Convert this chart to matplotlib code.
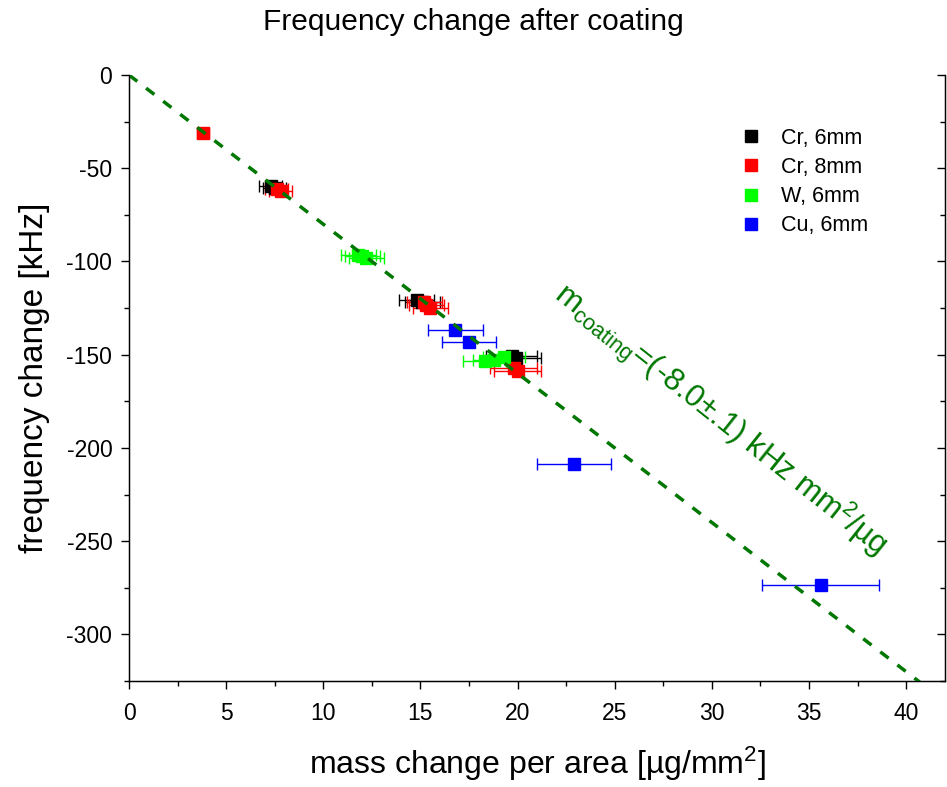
import matplotlib
matplotlib.use("Agg")
import matplotlib.pyplot as plt
import numpy as np
from matplotlib.ticker import MultipleLocator
from matplotlib.lines import Line2D

plt.rcParams['font.family'] = ['Liberation Sans', 'DejaVu Sans']
plt.rcParams['mathtext.fontset'] = 'custom'
plt.rcParams['mathtext.rm'] = 'Liberation Sans'
plt.rcParams['mathtext.it'] = 'Liberation Sans'
plt.rcParams['axes.unicode_minus'] = False

# data
cr6_x = [7.3, 7.5, 14.8, 15.1, 19.7, 19.9]
cr6_y = [-59.5, -60.5, -120.5, -121.5, -150.5, -152.0]
cr6_xerr = [0.6, 0.6, 0.9, 0.9, 1.3, 1.3]

cr8_x = [3.8, 7.6, 7.8, 15.2, 15.3, 15.5, 19.8, 20.0]
cr8_y = [-31.0, -61.0, -62.0, -122.0, -123.5, -125.0, -157.0, -158.5]
cr8_xerr = [0.3, 0.6, 0.6, 0.9, 0.9, 0.9, 1.2, 1.2]

w6_x = [11.8, 12.0, 12.2, 18.3, 18.8, 19.3]
w6_y = [-96.5, -97.0, -98.0, -153.5, -153.0, -151.0]
w6_xerr = [0.9, 0.9, 0.9, 1.1, 1.1, 1.1]

cu6_x = [16.8, 17.5, 22.9, 35.6]
cu6_y = [-137.0, -143.0, -208.5, -273.5]
cu6_xerr = [1.4, 1.4, 1.9, 3.0]

slope = -8.0
fit_x = [0.0, 42.0]

fig = plt.figure(figsize=(9.47, 7.87), dpi=100)
ax = fig.add_axes([129/947, 1-681/787, (945-129)/947, (681-75)/787])

series = [
    (cr6_x, cr6_y, cr6_xerr, '#000000', 'Cr, 6mm'),
    (cr8_x, cr8_y, cr8_xerr, '#ff0000', 'Cr, 8mm'),
    (w6_x, w6_y, w6_xerr, '#00ff00', 'W, 6mm'),
    (cu6_x, cu6_y, cu6_xerr, '#0000ff', 'Cu, 6mm'),
]
handles = []
for x, y, xe, c, lab in series:
    ax.errorbar(x, y, xerr=xe, fmt='s', color=c, ms=8.5, mec=c,
                ecolor=c, elinewidth=1.0, capsize=4, capthick=1.0)
    handles.append(Line2D([], [], ls='none', marker='s', ms=8, color=c, label=lab))

fx = np.array(fit_x)
ax.plot(fx, slope * fx, '--', color='#007700', lw=2.5, dashes=(3, 3.2), zorder=5)

ax.set_xlim(0, 42)
ax.set_ylim(-325, 0)
ax.xaxis.set_major_locator(MultipleLocator(5))
ax.xaxis.set_minor_locator(MultipleLocator(2.5))
ax.yaxis.set_major_locator(MultipleLocator(50))
ax.yaxis.set_minor_locator(MultipleLocator(25))
ax.spines['top'].set_visible(False)
for s in ['left', 'bottom', 'right']:
    ax.spines[s].set_linewidth(1.0)
ax.tick_params(which='both', direction='out', labelsize=16.5, width=1.0,
               right=False, top=False, pad=6)
ax.tick_params(axis='x', pad=9)
ax.tick_params(which='major', length=6)
ax.tick_params(which='minor', length=3.5)

ax2 = ax.twinx()
ax2.set_ylim(-325, 0)
ax2.yaxis.set_major_locator(MultipleLocator(50))
ax2.yaxis.set_minor_locator(MultipleLocator(25))
ax2.tick_params(which='both', direction='in', labelright=False, width=1.0)
ax2.tick_params(which='major', length=6)
ax2.tick_params(which='minor', length=3.5)
ax2.spines['top'].set_visible(False)

ax.set_xlabel('mass change per area [µg/mm$^2$]', fontsize=23, labelpad=14)
ax.set_ylabel('frequency change [kHz]', fontsize=24, labelpad=12)
fig.text(0.5, 1-22/787, 'Frequency change after coating', ha='center', va='center', fontsize=21.5)

leg = ax.legend(handles=handles, loc='upper right', bbox_to_anchor=(0.93, 0.945), frameon=False,
                fontsize=15.5, handlelength=0.8, handletextpad=1.0, labelspacing=0.38)

ax.text(0.724, 0.431, 'm$_{coating}$=(-8.0$\\pm$.1) kHz mm$^2$/µg', transform=ax.transAxes,
        rotation=-38.5, rotation_mode='anchor', fontsize=22.5, color='#007700',
        ha='center', va='center')

fig.savefig('out.png', dpi=100)
